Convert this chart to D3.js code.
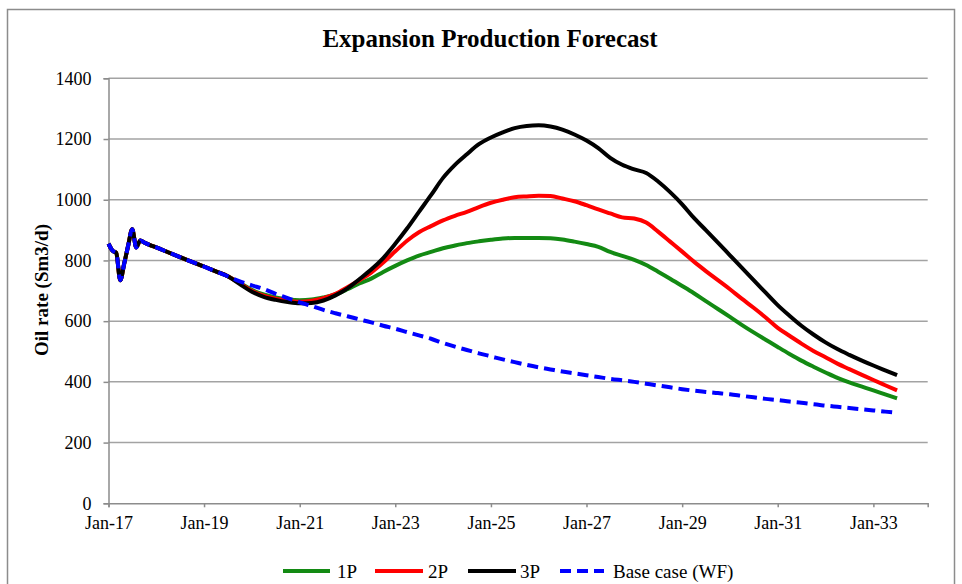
<!DOCTYPE html>
<html>
<head>
<meta charset="utf-8">
<script src="https://cdn.jsdelivr.net/npm/d3@7"></script>
<style>
  html, body { margin: 0; padding: 0; background: #fff; }
  svg { display: block; }
</style>
</head>
<body>
<svg id="chart" width="962" height="584" font-family="'Liberation Serif', 'Times New Roman', serif"></svg>
<script>
// Observation dates: monthly through 2017, quarterly afterwards
const dates = [
  "2017-01","2017-02","2017-03","2017-04","2017-05","2017-06","2017-07","2017-08","2017-09","2017-10","2017-11","2017-12",
  "2018-01","2018-04","2018-07","2018-10","2019-01","2019-04","2019-07","2019-10",
  "2020-01","2020-04","2020-07","2020-10","2021-01","2021-04","2021-07","2021-10",
  "2022-01","2022-04","2022-07","2022-10","2023-01","2023-04","2023-07","2023-10",
  "2024-01","2024-04","2024-07","2024-10","2025-01","2025-04","2025-07","2025-10",
  "2026-01","2026-04","2026-07","2026-10","2027-01","2027-04","2027-07","2027-10",
  "2028-01","2028-04","2028-07","2028-10","2029-01","2029-04","2029-07","2029-10",
  "2030-01","2030-04","2030-07","2030-10","2031-01","2031-04","2031-07","2031-10",
  "2032-01","2032-04","2032-07","2032-10","2033-01","2033-04","2033-07"
];

// Shared history (Jan-17 .. Jul-19), identical for every case
const history = [
  855, 832, 825, 735, 790, 850, 903, 843, 866, 859, 853, 848,
  843, 827, 811, 795, 780, 764, 748
];

// Forecasts from Oct-19 onwards, Sm3/d
const p1Forecast = [
  726, 703, 688, 678, 672, 669, 671, 678, 688, 705, 724, 740, 762,
  782, 800, 816, 828, 840, 849, 857, 863, 868, 872, 874, 874,
  874, 873, 869, 862, 854, 845, 828, 815, 802, 785, 763, 740,
  716, 692, 666, 640, 614, 588, 563, 539, 515, 492, 470, 450,
  431, 413, 398, 385, 372, 359, 346
];
const p2Forecast = [
  725, 700, 684, 674, 668, 664, 667, 676, 690, 712, 735, 760, 793,
  830, 865, 893, 913, 932, 947, 960, 976, 990, 1000, 1008, 1011,
  1013, 1012, 1004, 995, 982, 968, 955, 942, 938, 925, 895, 862,
  829, 796, 765, 735, 705, 674, 644, 612, 578, 552, 526, 502,
  481, 460, 442, 424, 406, 389, 372
];
const p3Forecast = [
  722, 697, 680, 670, 663, 659, 660, 668, 685, 708, 738, 770, 808,
  855, 905, 960, 1015, 1072, 1115, 1150, 1183, 1205, 1222, 1236, 1243,
  1245, 1241, 1231, 1215, 1195, 1170, 1138, 1115, 1100, 1088, 1060, 1025,
  985, 940, 900, 859, 817, 776, 735, 694, 653, 618, 585, 556,
  530, 508, 489, 471, 454, 438, 422
];
const baseForecast = [
  731, 718, 706, 690, 676, 662, 650, 637, 626, 616, 606, 596, 585,
  575, 564, 553, 542, 528, 516, 505, 494, 484, 474, 465, 456,
  448, 441, 434, 428, 422, 416, 410, 405, 400, 394, 388, 382,
  376, 371, 367, 363, 359, 354, 349, 344, 340, 335, 331, 326,
  322, 318, 314, 310, 306, 302, 298
];

const seriesNames = ["1P", "2P", "3P", "Base case (WF)"];
const seriesColors = ["#138a13", "#ff0000", "#000000", "#0000ff"];
const seriesDashes = [null, null, null, "11,6"];
const yTicks = [0, 200, 400, 600, 800, 1000, 1200, 1400];
const xTickYears = [2017, 2019, 2021, 2023, 2025, 2027, 2029, 2031, 2033];

const serif = "'Liberation Serif', 'Times New Roman', serif";
const parse = d3.timeParse("%Y-%m");
const dateObjs = dates.map(parse);
const seriesValues = [p1Forecast, p2Forecast, p3Forecast, baseForecast].map(f => history.concat(f));

const svg = d3.select("#chart");

// Chart frame
svg.append("rect")
  .attr("x", 7.5).attr("y", 9.5)
  .attr("width", 947).attr("height", 620)
  .attr("fill", "none").attr("stroke", "#8c8c8c").attr("stroke-width", 1.5);

const plot = { left: 108.5, right: 927.7, top: 78.3, bottom: 503.3 };

const x = d3.scaleTime()
  .domain([new Date(2017, 0, 1), new Date(2034, 1, 20)])
  .range([plot.left, plot.right]);
const y = d3.scaleLinear()
  .domain([0, 1400])
  .range([plot.bottom, plot.top]);

// Horizontal gridlines
svg.append("g")
  .selectAll("line")
  .data(yTicks.filter(v => v > 0))
  .join("line")
  .attr("x1", plot.left).attr("x2", plot.right)
  .attr("y1", d => y(d)).attr("y2", d => y(d))
  .attr("stroke", "#a3a3a3").attr("stroke-width", 1.5);

// Y axis
const yAxis = svg.append("g")
  .attr("transform", `translate(${plot.left},0)`)
  .call(d3.axisLeft(y).tickValues(yTicks).tickSize(5).tickPadding(12).tickFormat(d3.format("d")));
yAxis.attr("font-family", serif).attr("font-size", 18);
yAxis.select(".domain").attr("stroke", "#8c8c8c").attr("stroke-width", 1.5);
yAxis.selectAll(".tick line").attr("stroke", "#8c8c8c").attr("stroke-width", 1.5);
yAxis.selectAll(".tick text").attr("fill", "#000");

// X axis
const xAxis = svg.append("g")
  .attr("transform", `translate(0,${plot.bottom})`)
  .call(d3.axisBottom(x)
    .tickValues(xTickYears.map(yr => new Date(yr, 0, 1)))
    .tickSize(4).tickPadding(9)
    .tickFormat(d3.timeFormat("%b-%y")));
xAxis.attr("font-family", serif).attr("font-size", 18);
xAxis.select(".domain").attr("stroke", "#8c8c8c").attr("stroke-width", 1.5);
xAxis.selectAll(".tick line").attr("stroke", "#8c8c8c").attr("stroke-width", 1.5);
xAxis.selectAll(".tick text").attr("fill", "#000");

// Series lines, base case drawn last so it sits on top
const line = d3.line()
  .x((d, i) => x(dateObjs[i]))
  .y(d => y(d))
  .curve(d3.curveMonotoneX);

svg.append("g")
  .selectAll("path")
  .data(seriesValues)
  .join("path")
  .attr("d", d => line(d))
  .attr("fill", "none")
  .attr("stroke", (d, i) => seriesColors[i])
  .attr("stroke-width", 4)
  .attr("stroke-dasharray", (d, i) => seriesDashes[i])
  .attr("stroke-linejoin", "round");

// Title
svg.append("text")
  .attr("x", 490).attr("y", 47)
  .attr("text-anchor", "middle")
  .attr("font-size", 25).attr("font-weight", "bold")
  .text("Expansion Production Forecast");

// Y axis title
svg.append("text")
  .attr("transform", "translate(48,290) rotate(-90)")
  .attr("text-anchor", "middle")
  .attr("font-size", 19).attr("font-weight", "bold")
  .text("Oil rate (Sm3/d)");

// Legend
const legendItems = [
  { x1: 283, x2: 330, tx: 337 },
  { x1: 375, x2: 423, tx: 428 },
  { x1: 468, x2: 516, tx: 520 },
  { x1: 560, x2: 604, tx: 613 }
];
const legend = svg.append("g");
legendItems.forEach((it, i) => {
  legend.append("line")
    .attr("x1", it.x1).attr("x2", it.x2)
    .attr("y1", 571).attr("y2", 571)
    .attr("stroke", seriesColors[i]).attr("stroke-width", 4)
    .attr("stroke-dasharray", seriesDashes[i]);
  legend.append("text")
    .attr("x", it.tx).attr("y", 578)
    .attr("font-size", 19)
    .text(seriesNames[i]);
});
</script>
</body>
</html>
